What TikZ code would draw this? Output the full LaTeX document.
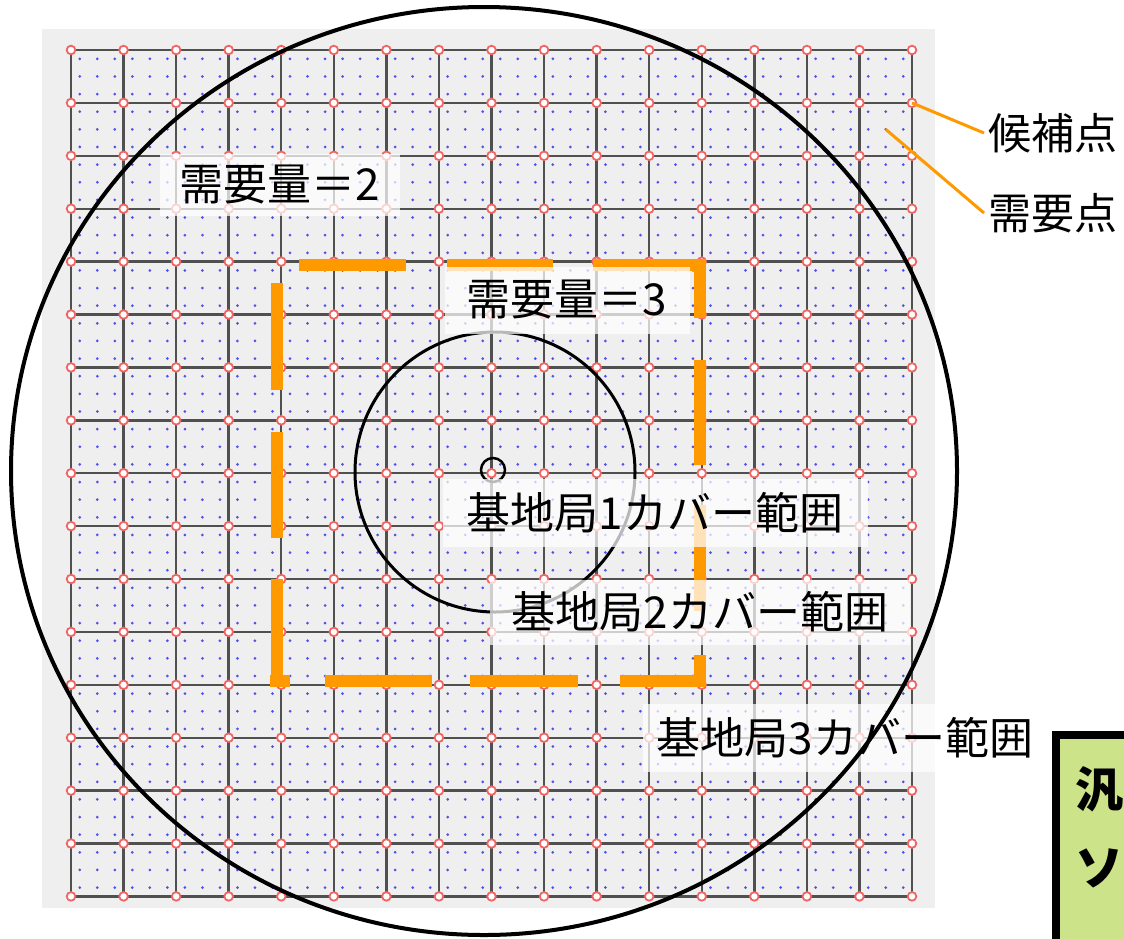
\documentclass[tikz,border=0pt]{standalone}
\usepackage{fontspec}
\setmainfont{Noto Sans CJK JP}
\definecolor{bggray}{RGB}{239,239,239}
\definecolor{gridc}{RGB}{80,80,80}
\definecolor{candc}{RGB}{240,100,100}
\definecolor{demc}{RGB}{80,80,240}
\definecolor{orng}{RGB}{255,153,0}
\definecolor{lgreen}{RGB}{205,227,138}
\tikzset{
  gridline/.style={draw=gridc, line width=2.4pt},
  cand/.style={draw=candc, fill=white, line width=1.8pt},
  demand/.style={fill=demc},
  cover/.style={draw=orng, line width=12pt, line cap=butt},
  ring/.style={draw=black},
  lab/.style={fill=white, fill opacity=0.72, text opacity=1, inner sep=0pt,
              font=\fontsize{44}{44}\selectfont},
  side/.style={inner sep=4pt, font=\fontsize{43}{43}\selectfont},
  leader/.style={draw=orng, line width=3pt},
}
\begin{document}
\begin{tikzpicture}[x=1pt, y=-1pt]
\useasboundingbox (0,0) rectangle (1124,938);
\clip (0,0) rectangle (1124,938);
\def\gx{71}\def\gdx{52.5625}\def\gy{50}\def\gdy{52.9}
% background panel
\fill[bggray] (42,29) rectangle (935,908);
% grid lines
\foreach \i in {0,...,16}{
  \draw[gridline] ({\gx+\i*\gdx},\gy) -- ({\gx+\i*\gdx},{\gy+16*\gdy});
  \draw[gridline] (\gx,{\gy+\i*\gdy}) -- ({\gx+16*\gdx},{\gy+\i*\gdy});
}
% demand points
\foreach \i in {0,...,15}{\foreach \j in {0,...,15}{\foreach \a in {1,3,5}{\foreach \b in {1,3,5}{
  \fill[demand] ({\gx+(\i+\a/6)*\gdx},{\gy+(\j+\b/6)*\gdy}) circle (1.5);
}}}}
% candidate points
\foreach \i in {0,...,16}{\foreach \j in {0,...,16}{
  \draw[cand] ({\gx+\i*\gdx},{\gy+\j*\gdy}) circle (4.3);
}}
\coordinate (candTR) at ({\gx+16*\gdx},{\gy+\gdy});
\coordinate (demTR) at ({\gx+(15+3/6)*\gdx},{\gy+(1+3/6)*\gdy});
% orange dashed coverage square (base station 2)
\draw[cover] (276.5,283) -- (276.5,390);
\draw[cover] (276.5,432) -- (276.5,538);
\draw[cover] (276.5,579) -- (276.5,687);
\draw[cover] (299,265) -- (406,265);
\draw[cover] (447,265) -- (553,265);
\draw[cover] (593,265) -- (706,265);
\draw[cover] (700,259) -- (700,318);
\draw[cover] (700,360) -- (700,465);
\draw[cover] (700,505) -- (700,611);
\draw[cover] (700,655) -- (700,687);
\draw[cover] (270,681) -- (290,681);
\draw[cover] (325,681) -- (432,681);
\draw[cover] (470,681) -- (578,681);
\draw[cover] (620,681) -- (706,681);
% base station 1 coverage circle and station
\draw[ring, line width=3pt] (495,472) circle (140);
\draw[ring, line width=2.5pt] (493,470) circle (12);
% labels
\node[lab, minimum width=240, minimum height=62] (d2) at (280,185) {需要量＝2};
\node[lab, minimum width=245, minimum height=67] (d3) at (567,300) {需要量＝3};
\node[lab, minimum width=425, minimum height=68] (b1) at (655,513) {基地局1カバー範囲};
\node[lab, minimum width=420, minimum height=65] (b2) at (700,612) {基地局2カバー範囲};
\node[lab, minimum width=405, minimum height=68] (b3) at (845,738) {基地局3カバー範囲};
% big coverage circle (base station 3)
\draw[ring, line width=4pt] (484,471) ellipse [x radius=473, y radius=464];
% legend texts and leaders
\node[side, anchor=west] (kouho) at (984,133) {候補点};
\node[side, anchor=west] (juyo) at (984,213) {需要点};
\draw[leader] (candTR) -- (kouho.west);
\draw[leader] (demTR) -- (juyo.west);
% green box at bottom right
\node[draw=black, line width=8pt, fill=lgreen, anchor=north west,
      minimum width=140, minimum height=240, inner sep=0pt] (gbox) at (1052,731) {};
\node[font=\fontsize{48}{48}\selectfont\bfseries, inner sep=0pt] (g1) at (1099,789) {汎};
\node[font=\fontsize{48}{48}\selectfont\bfseries, inner sep=0pt] (g2) at (1099,868) {ソ};
\end{tikzpicture}
\end{document}
